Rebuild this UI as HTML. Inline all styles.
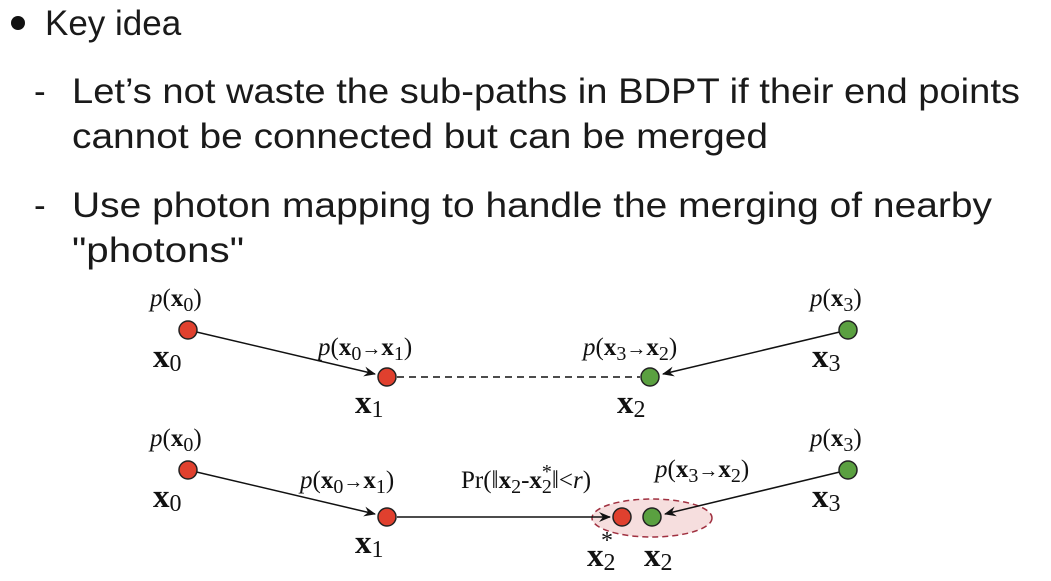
<!DOCTYPE html>
<html><head><meta charset="utf-8"><style>
html,body{margin:0;padding:0;background:#fff}
svg{display:block}
.t{font-family:"Liberation Sans",sans-serif;font-size:35px;fill:#1a1a1a}
.m{font-family:"Liberation Serif",serif;font-size:25px;fill:#111}
.b{font-family:"Liberation Serif",serif;font-size:33px;font-weight:bold;fill:#111}
.s{font-size:20px}
.bs{font-size:24px;font-weight:normal}
</style></head><body>
<svg width="1051" height="581" viewBox="0 0 1051 581">
<defs><marker id="ar" markerWidth="12" markerHeight="10" refX="11" refY="5" orient="auto" markerUnits="userSpaceOnUse"><path d="M0,0 L12,5 L0,10 L4,5 z" fill="#111"/></marker></defs>
<circle cx="18" cy="23" r="7" fill="#111"/>
<text class="t" x="45" y="35">Key idea</text>
<text class="t" x="34" y="103">-</text>
<text class="t" x="72" y="103" textLength="948" lengthAdjust="spacingAndGlyphs">Let’s not waste the sub-paths in BDPT if their end points</text>
<text class="t" x="72" y="148" textLength="696" lengthAdjust="spacingAndGlyphs">cannot be connected but can be merged</text>
<text class="t" x="34" y="217">-</text>
<text class="t" x="72" y="217" textLength="920" lengthAdjust="spacingAndGlyphs">Use photon mapping to handle the merging of nearby</text>
<text class="t" x="72" y="262" textLength="172" lengthAdjust="spacingAndGlyphs">"photons"</text>

<g>
<line x1="188" y1="330" x2="375" y2="374" stroke="#111" stroke-width="1.5" marker-end="url(#ar)"/>
<line x1="848" y1="330" x2="663" y2="374" stroke="#111" stroke-width="1.5" marker-end="url(#ar)"/>
<line x1="397" y1="377" x2="640" y2="377" stroke="#111" stroke-width="1.5" stroke-dasharray="7,5"/>
<circle cx="188" cy="330" r="9" fill="#e0402e" stroke="#222" stroke-width="1.5"/>
<circle cx="387" cy="377" r="9" fill="#e0402e" stroke="#222" stroke-width="1.5"/>
<circle cx="650" cy="377" r="9" fill="#5aa040" stroke="#222" stroke-width="1.5"/>
<circle cx="848" cy="330" r="9" fill="#5aa040" stroke="#222" stroke-width="1.5"/>
<text class="m" x="150" y="306"><tspan font-style="italic">p</tspan>(<tspan font-weight="bold">x</tspan><tspan class="s" dy="5">0</tspan><tspan dy="-5">)</tspan></text>
<text class="m" x="810" y="306"><tspan font-style="italic">p</tspan>(<tspan font-weight="bold">x</tspan><tspan class="s" dy="5">3</tspan><tspan dy="-5">)</tspan></text>
<text class="m" x="318" y="355"><tspan font-style="italic">p</tspan>(<tspan font-weight="bold">x</tspan><tspan class="s" dy="5">0</tspan><tspan dy="-5" font-size="20">→</tspan><tspan font-weight="bold">x</tspan><tspan class="s" dy="5">1</tspan><tspan dy="-5">)</tspan></text>
<text class="m" x="583" y="355"><tspan font-style="italic">p</tspan>(<tspan font-weight="bold">x</tspan><tspan class="s" dy="5">3</tspan><tspan dy="-5" font-size="20">→</tspan><tspan font-weight="bold">x</tspan><tspan class="s" dy="5">2</tspan><tspan dy="-5">)</tspan></text>
<text class="b" x="153" y="367">x<tspan class="bs" dy="4">0</tspan></text>
<text class="b" x="812" y="367">x<tspan class="bs" dy="4">3</tspan></text>
<text class="b" x="355" y="413">x<tspan class="bs" dy="4">1</tspan></text>
<text class="b" x="617" y="413">x<tspan class="bs" dy="4">2</tspan></text>
</g>

<g>
<ellipse cx="652" cy="518" rx="60" ry="19" fill="#f6dede" stroke="#a03040" stroke-width="1.5" stroke-dasharray="6,4"/>
<line x1="188" y1="470" x2="375" y2="514" stroke="#111" stroke-width="1.5" marker-end="url(#ar)"/>
<line x1="848" y1="470" x2="665" y2="514" stroke="#111" stroke-width="1.5" marker-end="url(#ar)"/>
<line x1="397" y1="517" x2="610" y2="517" stroke="#111" stroke-width="1.5" marker-end="url(#ar)"/>
<circle cx="188" cy="470" r="9" fill="#e0402e" stroke="#222" stroke-width="1.5"/>
<circle cx="387" cy="517" r="9" fill="#e0402e" stroke="#222" stroke-width="1.5"/>
<circle cx="622" cy="517" r="9" fill="#e0402e" stroke="#222" stroke-width="1.5"/>
<circle cx="652" cy="517" r="9" fill="#5aa040" stroke="#222" stroke-width="1.5"/>
<circle cx="848" cy="470" r="9" fill="#5aa040" stroke="#222" stroke-width="1.5"/>
<text class="m" x="150" y="446"><tspan font-style="italic">p</tspan>(<tspan font-weight="bold">x</tspan><tspan class="s" dy="5">0</tspan><tspan dy="-5">)</tspan></text>
<text class="m" x="810" y="446"><tspan font-style="italic">p</tspan>(<tspan font-weight="bold">x</tspan><tspan class="s" dy="5">3</tspan><tspan dy="-5">)</tspan></text>
<text class="m" x="300" y="488"><tspan font-style="italic">p</tspan>(<tspan font-weight="bold">x</tspan><tspan class="s" dy="5">0</tspan><tspan dy="-5" font-size="20">→</tspan><tspan font-weight="bold">x</tspan><tspan class="s" dy="5">1</tspan><tspan dy="-5">)</tspan></text>
<text class="m" x="461" y="488">Pr(‖<tspan font-weight="bold">x</tspan><tspan class="s" dy="5">2</tspan><tspan dy="-5">-</tspan><tspan font-weight="bold">x</tspan><tspan class="s" dy="5">2</tspan><tspan class="s" dx="-10" dy="-15">*</tspan><tspan dy="10">‖&lt;</tspan><tspan font-style="italic">r</tspan>)</text>
<text class="m" x="655" y="477"><tspan font-style="italic">p</tspan>(<tspan font-weight="bold">x</tspan><tspan class="s" dy="5">3</tspan><tspan dy="-5" font-size="20">→</tspan><tspan font-weight="bold">x</tspan><tspan class="s" dy="5">2</tspan><tspan dy="-5">)</tspan></text>
<text class="b" x="153" y="507">x<tspan class="bs" dy="4">0</tspan></text>
<text class="b" x="812" y="507">x<tspan class="bs" dy="4">3</tspan></text>
<text class="b" x="355" y="553">x<tspan class="bs" dy="4">1</tspan></text>
<text class="b" x="587" y="566">x<tspan class="bs" dy="4">2</tspan></text>
<text class="bs" x="601" y="548" font-family="Liberation Serif, serif" fill="#111">*</text>
<text class="b" x="644" y="566">x<tspan class="bs" dy="4">2</tspan></text>
</g>
</svg>
</body></html>
